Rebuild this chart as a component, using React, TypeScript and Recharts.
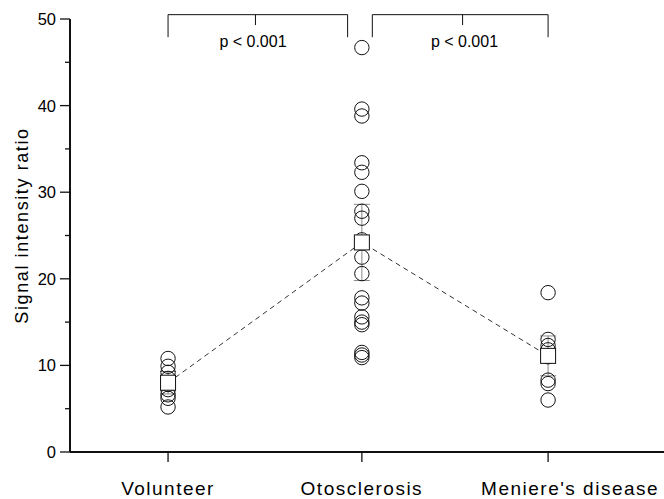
import React from 'react';
import {
  ComposedChart, XAxis, YAxis, Scatter, Line, ErrorBar, ReferenceLine, ReferenceDot,
} from 'recharts';

const categories = ['Volunteer', 'Otosclerosis', "Meniere's disease"];
const categoryX = [1, 2.02, 3];

const volunteerValues = [10.8, 9.9, 9.2, 8.5, 7.8, 7.2, 6.6, 6.2, 5.2];
const otosclerosisValues = [46.7, 39.6, 38.8, 33.4, 32.3, 30.1, 27.8, 27.0, 24.5, 22.5, 20.6, 17.8, 17.2, 15.6, 15.0, 14.7, 11.5, 11.2, 10.9];
const meniereValues = [18.4, 13.0, 12.3, 11.8, 11.0, 8.3, 7.9, 6.0];

const groupMeans = [8.0, 24.2, 11.1];
const groupErrors = [1.3, 4.4, 2.3];

const yTicks = [0, 5, 10, 15, 20, 25, 30, 35, 40, 45, 50];

// significance brackets
const brackets = [
  { x1: 1, x2: 1.945, mid: 1.46, label: 'p < 0.001', labelX: 1.447 },
  { x1: 2.075, x2: 3, mid: 2.55, label: 'p < 0.001', labelX: 2.56 },
];
const bracketTop = 50.5;
const bracketLeg = 47.9;
const bracketTick = 49.3;
const bracketLabelY = 47.46;

const allGroups = [volunteerValues, otosclerosisValues, meniereValues];
const pointData = allGroups.flatMap((vals, i) => vals.map((v) => ({ x: categoryX[i], y: v })));
const meanData = groupMeans.map((m, i) => ({ x: categoryX[i], y: m, err: groupErrors[i] }));

const INK = '#111';
const FONT = '"Liberation Sans", Arial, sans-serif';

const CircleShape = (props: any) => {
  const { cx, cy } = props;
  return <circle cx={cx} cy={cy} r={7.2} fill="none" stroke={INK} strokeWidth={1} />;
};

const SquareShape = (props: any) => {
  const { cx, cy } = props;
  return <rect x={cx - 7.5} y={cy - 7.5} width={15} height={15} fill="#fff" stroke={INK} strokeWidth={1} />;
};

const YTick = (props: any) => {
  const { x, y, payload } = props;
  const v = payload.value;
  const major = v % 10 === 0;
  return (
    <g>
      <line x1={x - (major ? 10 : 5)} x2={x} y1={y} y2={y} stroke={INK} strokeWidth={1.3} />
      {major && (
        <text x={x - 14} y={y} dy="0.36em" textAnchor="end" fontSize={16.5} fontFamily={FONT} fill="#000">
          {v}
        </text>
      )}
    </g>
  );
};

const XTick = (props: any) => {
  const { x, y, payload } = props;
  const idx = categoryX.indexOf(payload.value);
  const last = idx === categories.length - 1;
  return (
    <text x={x} y={y} dx={last ? 22 : 0} dy="0.71em" textAnchor="middle" fontSize={19} fontFamily={FONT} fill="#000" letterSpacing={1.5}>
      {categories[idx]}
    </text>
  );
};

const YLabel = (props: any) => {
  const vb = props.viewBox || { x: 0, y: 0, width: 70, height: 433 };
  const cx = vb.x + 22;
  const cy = vb.y + vb.height / 2 - 10;
  return (
    <text
      x={cx}
      y={cy}
      transform={`rotate(-90 ${cx} ${cy})`}
      textAnchor="middle"
      dominantBaseline="central"
      fontSize={18}
      fontFamily={FONT}
      fill="#000"
      letterSpacing={1.6}
    >
      Signal intensity ratio
    </text>
  );
};

export default function App() {
  return (
    <div style={{ position: 'absolute', left: 0, top: 0, background: '#fff' }}>
      <ComposedChart width={664} height={499} margin={{ top: 19, right: 0, bottom: 0, left: 0 }}>
        <XAxis
          type="number"
          dataKey="x"
          domain={[0.484, 3.61]}
          ticks={categoryX}
          tick={<XTick />}
          tickSize={10}
          tickMargin={20}
          height={47}
          axisLine={{ stroke: INK, strokeWidth: 2 }}
          tickLine={{ stroke: INK, strokeWidth: 1.3 }}
          allowDataOverflow
        />
        <YAxis
          type="number"
          dataKey="y"
          domain={[0, 50]}
          ticks={yTicks}
          width={70}
          tickLine={false}
          tickSize={0}
          tickMargin={0}
          tick={<YTick />}
          axisLine={{ stroke: INK, strokeWidth: 2 }}
          interval={0}
          label={<YLabel />}
        />
        <Line
          data={meanData}
          dataKey="y"
          type="linear"
          stroke="#333"
          strokeWidth={1}
          strokeDasharray="5 4"
          dot={false}
          activeDot={false}
          isAnimationActive={false}
        />
        <Scatter data={pointData} dataKey="y" shape={<CircleShape />} isAnimationActive={false} />
        <Scatter data={meanData} dataKey="y" shape={<SquareShape />} isAnimationActive={false}>
          <ErrorBar dataKey="err" direction="y" width={8} stroke="#888" strokeWidth={1} />
        </Scatter>
        {brackets.map((b, i) => (
          <ReferenceLine
            key={`bh${i}`}
            segment={[{ x: b.x1, y: bracketTop }, { x: b.x2, y: bracketTop }]}
            stroke={INK}
            strokeWidth={1}
            ifOverflow="visible"
          />
        ))}
        {brackets.map((b, i) => (
          <ReferenceLine
            key={`bl${i}`}
            segment={[{ x: b.x1, y: bracketTop }, { x: b.x1, y: bracketLeg }]}
            stroke={INK}
            strokeWidth={1}
            ifOverflow="visible"
          />
        ))}
        {brackets.map((b, i) => (
          <ReferenceLine
            key={`br${i}`}
            segment={[{ x: b.x2, y: bracketTop }, { x: b.x2, y: bracketLeg }]}
            stroke={INK}
            strokeWidth={1}
            ifOverflow="visible"
          />
        ))}
        {brackets.map((b, i) => (
          <ReferenceLine
            key={`bm${i}`}
            segment={[{ x: b.mid, y: bracketTop }, { x: b.mid, y: bracketTick }]}
            stroke={INK}
            strokeWidth={1}
            ifOverflow="visible"
          />
        ))}
        {brackets.map((b, i) => (
          <ReferenceDot
            key={`bt${i}`}
            x={b.labelX}
            y={bracketLabelY}
            r={0}
            fill="none"
            stroke="none"
            ifOverflow="visible"
            label={{ value: b.label, position: 'center', fontSize: 16, fontFamily: FONT, fill: '#000' }}
          />
        ))}
      </ComposedChart>
    </div>
  );
}
